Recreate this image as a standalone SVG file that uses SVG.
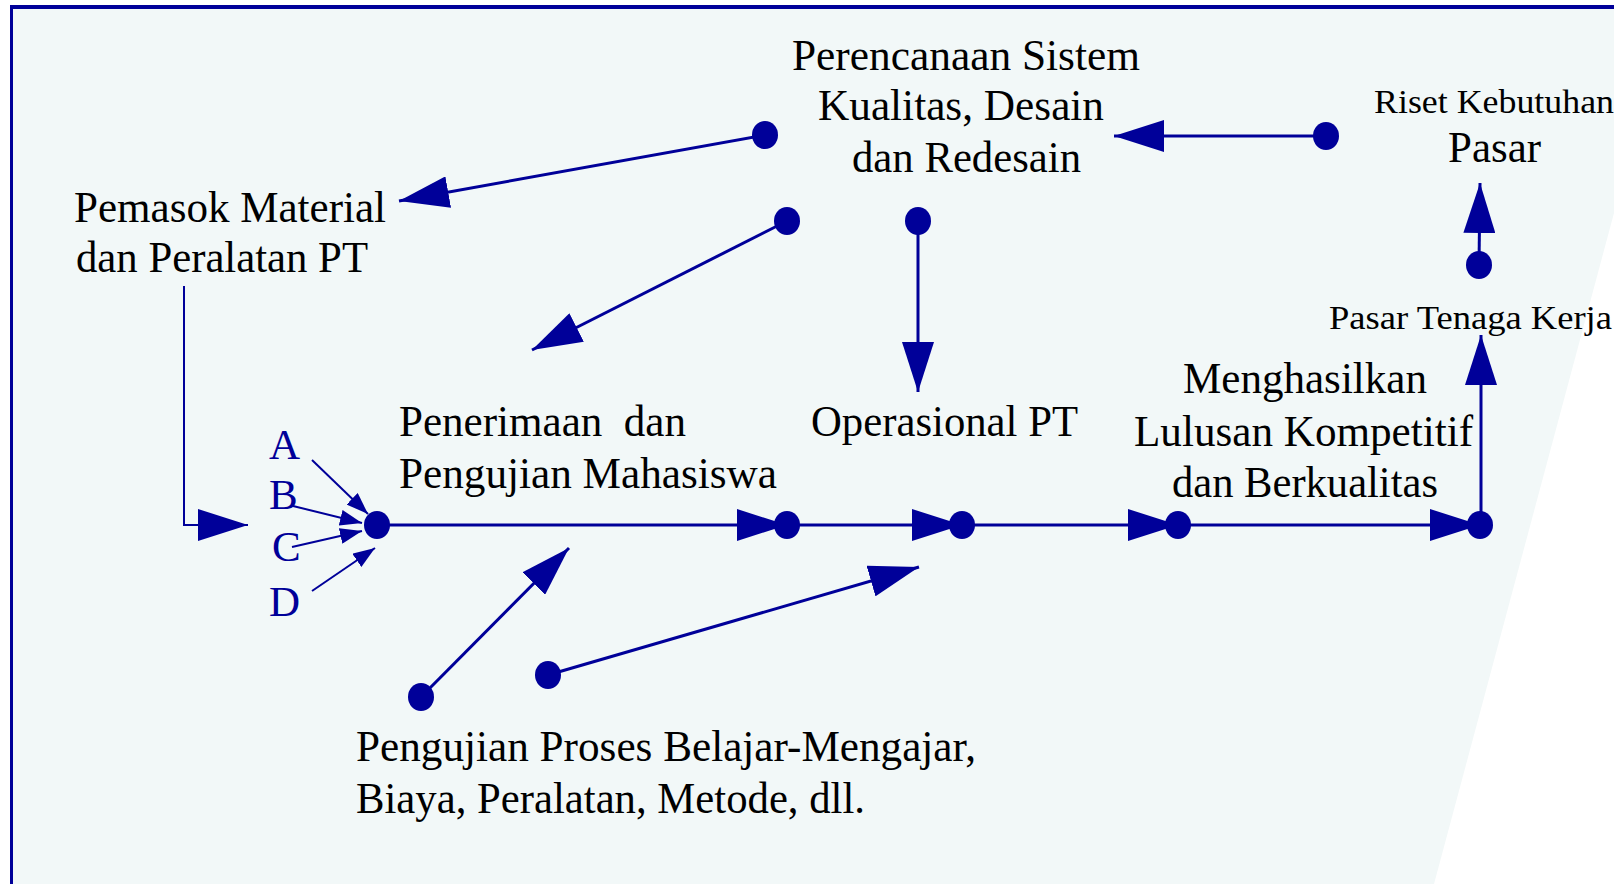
<svg xmlns="http://www.w3.org/2000/svg" width="1614" height="884" viewBox="0 0 1614 884">
<style>
.t{font-family:"Liberation Serif","Times New Roman",serif;font-size:44px;fill:#000}
.s{font-size:34px}
.l{font-family:"Liberation Serif","Times New Roman",serif;font-size:43px;fill:#000099}
.c{stroke:#000099;stroke-width:3;fill:none}
.c2{stroke:#000099;stroke-width:2;fill:none}
.d{fill:#000099}
</style>
<defs>
<marker id="ah" markerUnits="userSpaceOnUse" viewBox="0 0 50 32" refX="50" refY="16" markerWidth="50" markerHeight="32" orient="auto"><path d="M0,0 L50,16 L0,32 Z" fill="#000099"/></marker>
<marker id="as" markerUnits="userSpaceOnUse" viewBox="0 0 22 16" refX="22" refY="8" markerWidth="22" markerHeight="16" orient="auto"><path d="M0,0 L22,8 L0,16 Z" fill="#000099"/></marker>
</defs>
<rect x="0" y="0" width="1614" height="884" fill="#ffffff"/>
<polygon points="13,9 1614,9 1614,213 1434,884 13,884" fill="#F2F8F8"/>
<rect x="10" y="5" width="1604" height="4" fill="#000099"/>
<rect x="10" y="5" width="3" height="879" fill="#000099"/>

<g id="connectors">
<line class="c" x1="765" y1="135" x2="399" y2="201" marker-end="url(#ah)"/>
<line class="c" x1="787" y1="221" x2="532" y2="350" marker-end="url(#ah)"/>
<line class="c" x1="918" y1="221" x2="918" y2="392" marker-end="url(#ah)"/>
<line class="c" x1="1326" y1="136" x2="1114" y2="136" marker-end="url(#ah)"/>
<line class="c" x1="1479" y1="265" x2="1480" y2="183" marker-end="url(#ah)"/>
<polyline class="c2" points="184,286 184,525 248,525" marker-end="url(#ah)"/>
<line class="c" x1="377" y1="525" x2="787" y2="525" marker-end="url(#ah)"/>
<line class="c" x1="787" y1="525" x2="962" y2="525" marker-end="url(#ah)"/>
<line class="c" x1="962" y1="525" x2="1178" y2="525" marker-end="url(#ah)"/>
<line class="c" x1="1178" y1="525" x2="1480" y2="525" marker-end="url(#ah)"/>
<line class="c" x1="1481" y1="525" x2="1481" y2="335" marker-end="url(#ah)"/>
<line class="c" x1="421" y1="697" x2="569" y2="548" marker-end="url(#ah)"/>
<line class="c" x1="548" y1="675" x2="919" y2="567" marker-end="url(#ah)"/>
<line class="c2" x1="312" y1="460" x2="368" y2="514" marker-end="url(#as)"/>
<line class="c2" x1="293" y1="506" x2="362" y2="523" marker-end="url(#as)"/>
<line class="c2" x1="292" y1="547" x2="362" y2="531" marker-end="url(#as)"/>
<line class="c2" x1="312" y1="591" x2="375" y2="548" marker-end="url(#as)"/>
</g>

<g id="dots">
<ellipse class="d" cx="765" cy="135" rx="13" ry="14"/>
<ellipse class="d" cx="787" cy="221" rx="13" ry="14"/>
<ellipse class="d" cx="918" cy="221" rx="13" ry="14"/>
<ellipse class="d" cx="1326" cy="136" rx="13" ry="14"/>
<ellipse class="d" cx="1479" cy="265" rx="13" ry="14"/>
<ellipse class="d" cx="377" cy="525" rx="13" ry="14"/>
<ellipse class="d" cx="787" cy="525" rx="13" ry="14"/>
<ellipse class="d" cx="962" cy="525" rx="13" ry="14"/>
<ellipse class="d" cx="1178" cy="525" rx="13" ry="14"/>
<ellipse class="d" cx="1480" cy="525" rx="13" ry="14"/>
<ellipse class="d" cx="421" cy="697" rx="13" ry="14"/>
<ellipse class="d" cx="548" cy="675" rx="13" ry="14"/>
</g>

<g id="perencanaan">
<text class="t" x="792" y="70" textLength="348" lengthAdjust="spacingAndGlyphs">Perencanaan Sistem</text>
<text class="t" x="818" y="120" textLength="286" lengthAdjust="spacingAndGlyphs">Kualitas, Desain</text>
<text class="t" x="852" y="172" textLength="229" lengthAdjust="spacingAndGlyphs">dan Redesain</text>
</g>
<g id="riset">
<text class="t s" x="1374" y="113" textLength="240" lengthAdjust="spacingAndGlyphs">Riset Kebutuhan</text>
<text class="t" x="1448" y="162" textLength="93" lengthAdjust="spacingAndGlyphs">Pasar</text>
</g>
<g id="pasar-tenaga-kerja">
<text class="t s" x="1329" y="329" textLength="283" lengthAdjust="spacingAndGlyphs">Pasar Tenaga Kerja</text>
</g>
<g id="lulusan">
<text class="t" x="1183" y="393" textLength="244" lengthAdjust="spacingAndGlyphs">Menghasilkan</text>
<text class="t" x="1134" y="446" textLength="339" lengthAdjust="spacingAndGlyphs">Lulusan Kompetitif</text>
<text class="t" x="1172" y="497" textLength="266" lengthAdjust="spacingAndGlyphs">dan Berkualitas</text>
</g>
<g id="operasional">
<text class="t" x="811" y="436" textLength="267" lengthAdjust="spacingAndGlyphs">Operasional PT</text>
</g>
<g id="pemasok">
<text class="t" x="74" y="222" textLength="312" lengthAdjust="spacingAndGlyphs">Pemasok Material</text>
<text class="t" x="76" y="272" textLength="292" lengthAdjust="spacingAndGlyphs">dan Peralatan PT</text>
</g>
<g id="penerimaan">
<text class="t" x="399" y="436" textLength="287" lengthAdjust="spacingAndGlyphs" xml:space="preserve">Penerimaan  dan</text>
<text class="t" x="399" y="488" textLength="378" lengthAdjust="spacingAndGlyphs">Pengujian Mahasiswa</text>
</g>
<g id="inputs">
<text class="l" x="269" y="459">A</text>
<text class="l" x="269" y="509">B</text>
<text class="l" x="272" y="561">C</text>
<text class="l" x="269" y="616">D</text>
</g>
<g id="pengujian-proses">
<text class="t" x="356" y="761" textLength="620" lengthAdjust="spacingAndGlyphs">Pengujian Proses Belajar-Mengajar,</text>
<text class="t" x="356" y="813" textLength="509" lengthAdjust="spacingAndGlyphs">Biaya, Peralatan, Metode, dll.</text>
</g>
</svg>
